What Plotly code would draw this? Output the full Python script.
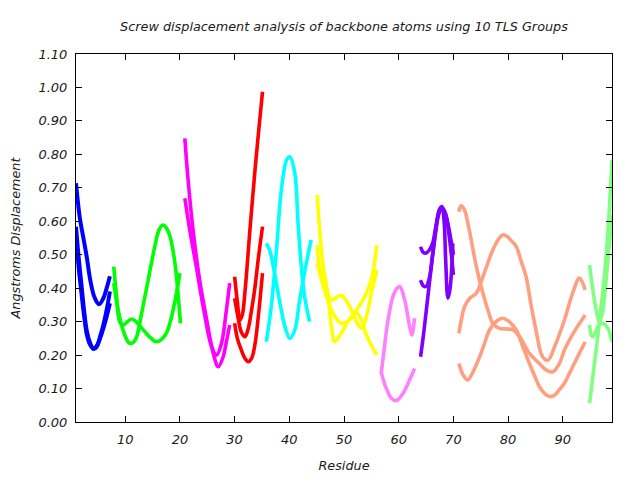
import plotly.graph_objects as go

# ---- data (residue, screw displacement in Angstroms) ----
blue1_res = [1.0, 1.7, 2.3, 3.0, 3.6, 4.4, 5.2, 6.0, 6.6, 7.2]
blue1_disp = [0.714, 0.61, 0.555, 0.49, 0.425, 0.372, 0.352, 0.37, 0.40, 0.436]
blue2_res = [1.0, 1.5, 2.0, 2.5, 3.0, 3.6, 4.2, 4.8, 5.4, 6.0, 6.6, 7.2]
blue2_disp = [0.584, 0.49, 0.41, 0.33, 0.27, 0.235, 0.218, 0.225, 0.255, 0.29, 0.335, 0.39]
blue3_res = [1.0, 1.5, 2.0, 2.5, 3.0, 3.6, 4.2, 4.8, 5.4, 6.0, 6.6, 7.2]
blue3_disp = [0.55, 0.46, 0.385, 0.315, 0.26, 0.23, 0.22, 0.228, 0.25, 0.28, 0.315, 0.355]

green1_res = [7.9, 8.4, 9.0, 9.7, 10.4, 11.2, 12.0, 12.8, 13.7, 14.6, 15.7, 16.7, 17.6, 18.4, 19.2, 20.0]
green1_disp = [0.464, 0.38, 0.30, 0.29, 0.30, 0.308, 0.30, 0.285, 0.268, 0.252, 0.24, 0.248, 0.268, 0.31, 0.37, 0.445]
green2_res = [7.9, 8.7, 9.6, 10.5, 11.0, 11.6, 12.1, 13.0, 14.2, 15.4, 16.2, 16.9, 17.6, 18.2, 19.1, 19.7, 20.1]
green2_disp = [0.415, 0.335, 0.275, 0.24, 0.235, 0.24, 0.255, 0.325, 0.425, 0.524, 0.575, 0.589, 0.578, 0.554, 0.474, 0.375, 0.295]

magenta1_res = [20.9, 21.5, 22.4, 23.6, 24.9, 26.1, 27.0, 27.9, 28.5, 29.1]
magenta1_disp = [0.848, 0.723, 0.574, 0.425, 0.305, 0.205, 0.165, 0.195, 0.24, 0.29]
magenta2_res = [20.9, 21.8, 23.0, 24.25, 25.8, 26.7, 27.6, 28.5, 29.1]
magenta2_disp = [0.669, 0.574, 0.464, 0.345, 0.225, 0.20, 0.235, 0.335, 0.415]

red1_res = [30.0, 30.5, 30.95, 31.4, 31.9, 32.8, 33.7, 34.4, 35.1]
red1_disp = [0.434, 0.36, 0.305, 0.32, 0.39, 0.574, 0.748, 0.87, 0.987]
red2_res = [30.0, 30.6, 31.2, 31.9, 32.5, 33.1, 33.7, 34.3, 35.1]
red2_disp = [0.37, 0.315, 0.27, 0.255, 0.28, 0.335, 0.40, 0.484, 0.584]
red3_res = [30.0, 30.5, 31.0, 31.9, 32.5, 33.1, 33.7, 34.3, 35.1]
red3_disp = [0.295, 0.25, 0.225, 0.19, 0.18, 0.19, 0.23, 0.31, 0.445]

cyan1_res = [35.8, 36.7, 37.65, 38.55, 39.5, 40.1, 41.0, 41.6, 42.2, 42.8, 43.7]
cyan1_disp = [0.24, 0.345, 0.514, 0.694, 0.783, 0.793, 0.744, 0.594, 0.464, 0.375, 0.30]
cyan2_res = [35.8, 36.4, 37.3, 38.3, 39.2, 40.1, 41.0, 41.9, 43.1, 44.0]
cyan2_disp = [0.534, 0.514, 0.445, 0.355, 0.285, 0.25, 0.275, 0.365, 0.474, 0.544]

yellow1_res = [45.1, 45.6, 46.2, 47.1, 47.7, 48.3, 49.5, 50.7, 52.3, 53.8, 55.0, 56.0]
yellow1_disp = [0.679, 0.564, 0.464, 0.375, 0.285, 0.24, 0.265, 0.30, 0.335, 0.375, 0.425, 0.529]
yellow2_res = [45.1, 45.6, 46.5, 47.7, 48.9, 49.6, 50.7, 51.6, 52.6, 53.2, 54.1, 55.0, 56.0]
yellow2_disp = [0.529, 0.454, 0.405, 0.365, 0.375, 0.378, 0.355, 0.325, 0.29, 0.28, 0.315, 0.385, 0.454]
yellow3_res = [45.1, 45.9, 46.8, 48.0, 49.5, 51.0, 52.3, 53.2, 54.1, 55.3, 56.0]
yellow3_disp = [0.474, 0.425, 0.375, 0.325, 0.295, 0.305, 0.325, 0.305, 0.26, 0.22, 0.20]

pink1_res = [56.8, 57.4, 58.05, 58.95, 59.6, 60.2, 61.1, 62.0, 62.4, 62.9]
pink1_disp = [0.145, 0.225, 0.305, 0.375, 0.398, 0.405, 0.365, 0.285, 0.26, 0.31]
pink2_res = [56.8, 57.2, 57.75, 58.66, 59.6, 60.8, 62.0, 62.9]
pink2_disp = [0.15, 0.125, 0.10, 0.071, 0.064, 0.086, 0.126, 0.16]

violet1_res = [64.0, 64.5, 65.0, 65.6, 66.2, 66.9, 67.5, 67.9, 68.3, 68.6, 69.0, 69.4, 69.9]
violet1_disp = [0.524, 0.507, 0.505, 0.514, 0.534, 0.594, 0.637, 0.644, 0.60, 0.48, 0.37, 0.40, 0.534]
violet2_res = [64.0, 64.5, 65.0, 65.6, 66.2, 66.9, 67.5, 68.0, 68.6, 69.2, 69.7, 70.0]
violet2_disp = [0.424, 0.407, 0.405, 0.43, 0.50, 0.59, 0.635, 0.64, 0.62, 0.56, 0.49, 0.44]
violet3_res = [64.0, 64.6, 65.3, 66.0, 66.7, 67.3, 67.9, 68.5, 69.1, 69.6, 70.0]
violet3_disp = [0.195, 0.27, 0.37, 0.47, 0.56, 0.62, 0.64, 0.625, 0.585, 0.54, 0.50]

salmon1_res = [71.0, 71.4, 72.0, 72.9, 74.2, 75.4, 76.4, 77.2, 78.4, 79.8, 80.9, 82.1, 83.9, 85.7, 87.0, 88.2, 89.4, 90.3, 92.1, 94.1]
salmon1_disp = [0.629, 0.646, 0.635, 0.574, 0.464, 0.385, 0.33, 0.295, 0.28, 0.278, 0.275, 0.255, 0.205, 0.175, 0.155, 0.15, 0.175, 0.215, 0.27, 0.32]
salmon2_res = [71.0, 71.5, 72.05, 73.0, 74.2, 75.4, 76.3, 77.2, 78.2, 79.0, 79.8, 80.7, 81.5, 82.4, 83.3, 84.2, 85.1, 86.3, 87.3, 88.5, 90.3, 91.8, 93.05, 94.1]
salmon2_disp = [0.265, 0.31, 0.345, 0.37, 0.385, 0.434, 0.475, 0.514, 0.545, 0.559, 0.555, 0.54, 0.524, 0.48, 0.434, 0.35, 0.275, 0.195, 0.185, 0.225, 0.305, 0.385, 0.43, 0.395]
salmon3_res = [71.0, 71.8, 72.65, 73.6, 74.8, 75.7, 76.6, 77.8, 79.0, 80.2, 81.5, 82.7, 83.9, 84.8, 85.7, 86.7, 87.6, 88.5, 89.3, 90.3, 91.2, 92.1, 94.1]
salmon3_disp = [0.175, 0.14, 0.126, 0.15, 0.195, 0.235, 0.275, 0.30, 0.31, 0.30, 0.275, 0.225, 0.175, 0.14, 0.106, 0.085, 0.076, 0.08, 0.095, 0.116, 0.145, 0.175, 0.24]

lgreen1_res = [94.9, 95.6, 96.4, 97.0, 97.6, 98.3, 99.0]
lgreen1_disp = [0.056, 0.15, 0.255, 0.345, 0.434, 0.58, 0.783]
lgreen2_res = [94.9, 95.5, 96.1, 96.7, 97.3, 97.9, 98.5, 99.0]
lgreen2_disp = [0.469, 0.395, 0.335, 0.30, 0.33, 0.42, 0.53, 0.62]
lgreen3_res = [94.9, 95.2, 95.5, 96.0, 96.6, 97.2, 97.8, 98.4, 99.0]
lgreen3_disp = [0.29, 0.26, 0.255, 0.27, 0.29, 0.295, 0.29, 0.275, 0.24]

x_ticks = [10, 20, 30, 40, 50, 60, 70, 80, 90]
y_ticks = [round(0.1 * i, 2) for i in range(12)]

title_text = "Screw displacement analysis of backbone atoms using 10 TLS Groups"
x_label = "Residue"
y_label = "Angstroms Displacement"

# ---- styling ----
curves = [
    (blue1_res, blue1_disp, "#0000ff"), (blue2_res, blue2_disp, "#0000ff"), (blue3_res, blue3_disp, "#0000ff"),
    (green1_res, green1_disp, "#00ff00"), (green2_res, green2_disp, "#00ff00"),
    (magenta1_res, magenta1_disp, "#ff00ff"), (magenta2_res, magenta2_disp, "#ff00ff"),
    (red1_res, red1_disp, "#ff0000"), (red2_res, red2_disp, "#ff0000"), (red3_res, red3_disp, "#ff0000"),
    (cyan1_res, cyan1_disp, "#00ffff"), (cyan2_res, cyan2_disp, "#00ffff"),
    (yellow1_res, yellow1_disp, "#ffff00"), (yellow2_res, yellow2_disp, "#ffff00"), (yellow3_res, yellow3_disp, "#ffff00"),
    (pink1_res, pink1_disp, "#ff80ff"), (pink2_res, pink2_disp, "#ff80ff"),
    (violet1_res, violet1_disp, "#8000ff"), (violet2_res, violet2_disp, "#8000ff"), (violet3_res, violet3_disp, "#8000ff"),
    (salmon1_res, salmon1_disp, "#ff9f80"), (salmon2_res, salmon2_disp, "#ff9f80"), (salmon3_res, salmon3_disp, "#ff9f80"),
    (lgreen1_res, lgreen1_disp, "#80ff80"), (lgreen2_res, lgreen2_disp, "#80ff80"), (lgreen3_res, lgreen3_disp, "#80ff80"),
]

fig = go.Figure()
for xs, ys, col in curves:
    fig.add_trace(go.Scatter(
        x=xs, y=ys, mode="lines",
        line=dict(color=col, width=4 if col == "#0000ff" else 3.6, shape="spline", smoothing=1.0),
        showlegend=False, hoverinfo="skip",
    ))

FONT = "DejaVu Sans"
TXT = "#1a1a1a"
axis_common = dict(
    showgrid=False, zeroline=False, showline=True, linecolor="black", linewidth=1,
    mirror="ticks", ticks="inside", ticklen=6, tickcolor="black", tickwidth=1,
    tickfont=dict(family=FONT, size=13, color=TXT, style="italic"),
    automargin=False,
)

fig.update_layout(
    width=640, height=480,
    margin=dict(l=76, r=28, t=54, b=58),
    paper_bgcolor="white", plot_bgcolor="white",
    title=dict(text=title_text, x=0.5375, xanchor="center", y=1 - 27 / 480, yanchor="middle",
               font=dict(family=FONT, size=12.8, color=TXT, style="italic")),
    xaxis=dict(range=[1, 99], tickvals=x_ticks, ticktext=[str(t) for t in x_ticks],
               ticklabelstandoff=5,
               title=dict(text=x_label, font=dict(family=FONT, size=12.8, color=TXT, style="italic"), standoff=15),
               **axis_common),
    yaxis=dict(range=[0, 1.1], tickvals=y_ticks, ticktext=[f"{t:.2f}" for t in y_ticks],
               ticklabelstandoff=5,
               title=dict(text=y_label, font=dict(family=FONT, size=12.8, color=TXT, style="italic"), standoff=14),
               **axis_common),
)

fig.write_html("out.html")
